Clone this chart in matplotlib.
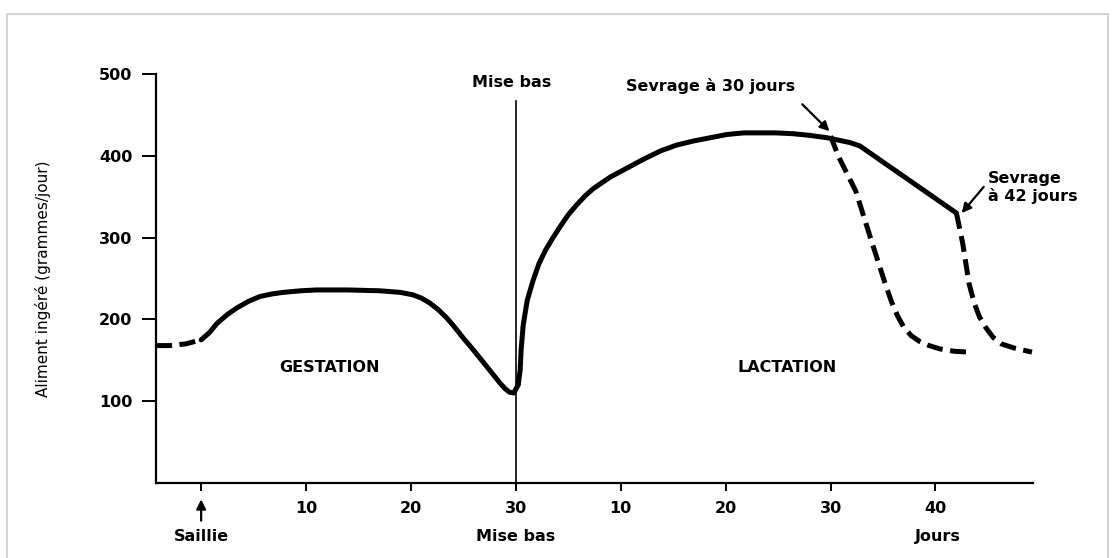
import numpy as np
import matplotlib.pyplot as plt
from matplotlib.patches import Rectangle

plt.rcParams['font.family'] = ['DejaVu Sans']

# gestation lasts 30 days here, lactation days are drawn after it
GESTATION_LENGTH = 30

# before saillie (dashed)
pre_days = [-4.3, -3.0, -1.5, -0.3]
pre_feed = [168, 168, 170, 174]

# gestation (days after saillie)
gest_days = [0.0, 0.8, 1.5, 2.5, 3.4, 4.5, 5.6, 6.7, 7.8, 9.5, 11.0, 14.0, 17.0,
             19.0, 20.2, 21.0, 21.8, 22.6, 23.4, 24.2, 25.0, 25.8, 27.0, 28.0,
             28.5, 29.0, 29.4, 29.8]
gest_feed = [175, 184, 195, 206, 214, 222, 228, 231, 233, 235, 236, 236, 235,
             233, 230, 226, 220, 212, 202, 190, 177, 165, 146, 130,
             122, 115, 111, 110]

# lactation (days after mise bas)
lact_days = [0.22, 0.41, 0.5, 0.7, 1.08, 1.65, 2.2, 2.8, 3.5, 4.2, 5.0, 5.8,
             6.6, 7.4, 9.0, 10.6, 12.2, 13.8, 15.3, 16.9, 18.5, 20.1, 21.7,
             23.3, 24.8, 26.4, 28.0, 29.7, 31.9, 32.8, 42.0]
lact_feed = [120, 138, 162, 193, 223, 248, 268, 284, 299, 313, 328, 340,
             351, 360, 374, 385, 396, 406, 413, 418, 422, 426, 428,
             428, 428, 427, 425, 422, 416, 412, 330]

# weaning curves (dashed)
wean30_days = [30.0, 30.8, 32.4, 33.8, 35.2, 35.8, 36.4, 37.0, 37.7, 38.5,
               39.4, 40.4, 41.8, 43.2]
wean30_feed = [424, 398, 357, 300, 244, 222, 204, 190, 180, 173,
               168, 164, 161, 160]
wean42_days = [42.0, 42.6, 43.2, 43.7, 44.2, 44.8, 45.5, 46.3, 47.5, 49.2]
wean42_feed = [330, 293, 244, 220, 203, 190, 178, 170, 165, 160]

yticks = [100, 200, 300, 400, 500]
xtick_days = [0, 10, 20, 30, 40, 50, 60, 70]
xtick_labels = ['', '10', '20', '30', '10', '20', '30', '40']


def lact_x(days):
    return np.asarray(days) + GESTATION_LENGTH


fig = plt.figure(figsize=(11.17, 5.58), dpi=100)
ax = fig.add_axes([0.1397, 0.1344, 0.7851, 0.7330])

# page edge of the scan
fig.patches.append(Rectangle((0.006, -0.01), 0.986, 0.985, transform=fig.transFigure,
                             fill=False, edgecolor='#d4d4d4', lw=1.5))

lw = 3.6
dash = (3.2, 1.5)
ax.plot(pre_days, pre_feed, color='black', lw=lw, dashes=dash, dash_capstyle='butt')
ax.plot(gest_days + [lact_x(lact_days)[0]], gest_feed + [lact_feed[0]],
        color='black', lw=lw, solid_joinstyle='round', solid_capstyle='round')
ax.plot(lact_x(lact_days), lact_feed, color='black', lw=lw,
        solid_joinstyle='round', solid_capstyle='round')
ax.plot(lact_x(wean30_days), wean30_feed, color='black', lw=lw, dashes=dash,
        dash_capstyle='butt')
ax.plot(lact_x(wean42_days), wean42_feed, color='black', lw=lw, dashes=dash,
        dash_capstyle='butt')

# mise bas line
ax.plot([GESTATION_LENGTH, GESTATION_LENGTH], [0, 467], color='black', lw=1.2)

ax.set_xlim(-4.3, 79.3)
ax.set_ylim(0, 500)
ax.spines['top'].set_visible(False)
ax.spines['right'].set_visible(False)
ax.spines['left'].set_linewidth(1.6)
ax.spines['bottom'].set_linewidth(1.6)
ax.set_yticks(yticks)
ax.set_xticks(xtick_days)
ax.set_xticklabels(xtick_labels)
ax.tick_params(axis='y', length=10, width=1.4, pad=7, labelsize=11.5)
ax.tick_params(axis='x', length=6, width=1.4, pad=7, labelsize=11.5)
for lab in ax.get_xticklabels() + ax.get_yticklabels():
    lab.set_fontweight('bold')

ax.set_ylabel('Aliment ingéré (grammes/jour)', fontsize=11)
ax.yaxis.set_label_coords(-0.12, 0.5)

txt = dict(fontsize=11.5, fontweight='bold')
ax.text(12.2, 141, 'GESTATION', ha='center', va='center', **txt)
ax.text(lact_x(25.9), 141, 'LACTATION', ha='center', va='center', **txt)
ax.text(GESTATION_LENGTH - 0.4, 489, 'Mise bas', ha='center', va='center', **txt)

ax.text(0, -66, 'Saillie', ha='center', va='center', **txt)
ax.text(GESTATION_LENGTH, -66, 'Mise bas', ha='center', va='center', **txt)
ax.text(lact_x(40.2), -66, 'Jours', ha='center', va='center', **txt)
ax.annotate('', xy=(0, -20), xytext=(0, -46), annotation_clip=False,
            arrowprops=dict(arrowstyle='-|>', color='black', lw=1.6,
                            mutation_scale=14, shrinkA=0, shrinkB=0))

ax.text(lact_x(18.6), 485, 'Sevrage à 30 jours', ha='center', va='center', **txt)
ax.annotate('', xy=(lact_x(29.9), 430), xytext=(lact_x(27.3), 463),
            arrowprops=dict(arrowstyle='-|>', color='black', lw=1.6,
                            mutation_scale=14, shrinkA=0, shrinkB=0))

ax.text(lact_x(45.0), 361, 'Sevrage\nà 42 jours', ha='left', va='center',
        linespacing=1.2, **txt)
ax.annotate('', xy=(lact_x(42.5), 330), xytext=(lact_x(44.6), 362),
            arrowprops=dict(arrowstyle='-|>', color='black', lw=1.6,
                            mutation_scale=14, shrinkA=0, shrinkB=0))

fig.savefig('out.png', dpi=100)
